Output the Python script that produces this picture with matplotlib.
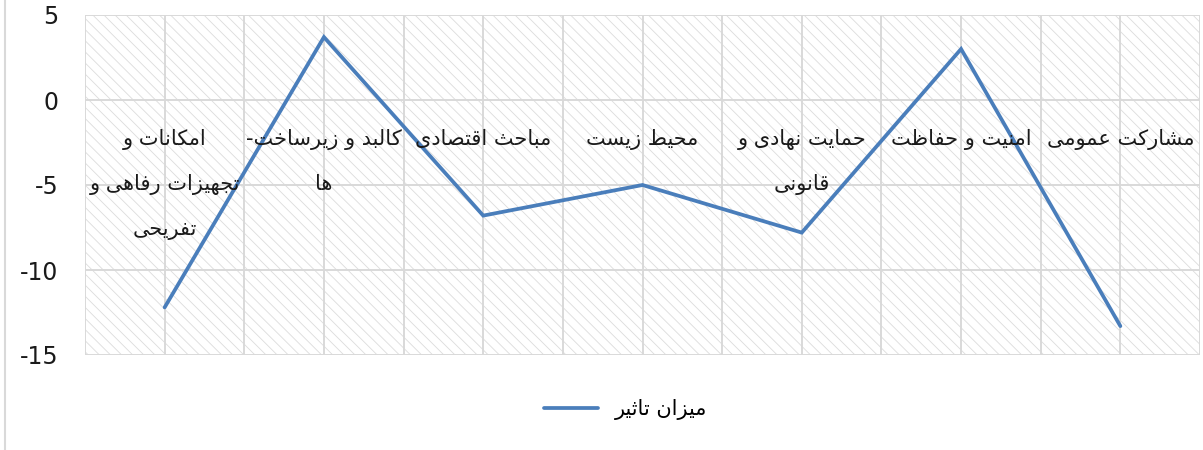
import matplotlib.pyplot as plt
from matplotlib.patches import Rectangle
from matplotlib.lines import Line2D

# chart data
categories = [
    "امکانات و\nتجهیزات رفاهی و\nتفریحی",
    "کالبد و زیرساخت-\nها",
    "مباحث اقتصادی",
    "محیط زیست",
    "حمایت نهادی و\nقانونی",
    "امنیت و حفاظت",
    "مشارکت عمومی",
]
values = [-12.2, 3.7, -6.8, -5.0, -7.8, 3.0, -13.3]
series_name = "میزان تاثیر"
yticks = [-15, -10, -5, 0, 5]

# minimal arabic/persian shaping (matplotlib has no bidi / joining)
# letter -> (first presentation form code, dual joining?)
FORMS = {
    'ا': (0xFE8D, False), 'ب': (0xFE8F, True), 'ت': (0xFE95, True),
    'ث': (0xFE99, True), 'ج': (0xFE9D, True), 'ح': (0xFEA1, True),
    'خ': (0xFEA5, True), 'د': (0xFEA9, False), 'ذ': (0xFEAB, False),
    'ر': (0xFEAD, False), 'ز': (0xFEAF, False), 'س': (0xFEB1, True),
    'ش': (0xFEB5, True), 'ص': (0xFEB9, True), 'ض': (0xFEBD, True),
    'ط': (0xFEC1, True), 'ظ': (0xFEC5, True), 'ع': (0xFEC9, True),
    'غ': (0xFECD, True), 'ف': (0xFED1, True), 'ق': (0xFED5, True),
    'ل': (0xFEDD, True), 'م': (0xFEE1, True), 'ن': (0xFEE5, True),
    'ه': (0xFEE9, True), 'و': (0xFEED, False), 'ی': (0xFBFC, True),
    'ک': (0xFB8E, True),
}


def shape_line(s):
    out = []
    for i, ch in enumerate(s):
        if ch not in FORMS:
            out.append(ch)
            continue
        start, dual = FORMS[ch]
        prev = s[i - 1] if i > 0 else ''
        nxt = s[i + 1] if i + 1 < len(s) else ''
        jp = prev in FORMS and FORMS[prev][1]
        jn = dual and nxt in FORMS
        if jp and jn:
            code = start + 3
        elif jp:
            code = start + 1
        elif jn:
            code = start + 2
        else:
            code = start
        out.append(chr(code))
    return ''.join(out)[::-1]


def shape(s):
    return '\n'.join(shape_line(l) for l in s.split('\n'))


plt.rcParams['font.family'] = ['DejaVu Sans']
plt.rcParams['axes.unicode_minus'] = False
plt.rcParams['hatch.linewidth'] = 0.6

fig = plt.figure(figsize=(12.03, 4.5), dpi=100)
ax = fig.add_axes([85 / 1203, 95 / 450, 1115 / 1203, 340 / 450])

x = list(range(len(values)))
ax.set_xlim(-0.5, len(values) - 0.5)
ax.set_ylim(-15, 5)

# hatched plot area
bg = Rectangle((0, 0), 1, 1, transform=ax.transAxes, facecolor='white',
               edgecolor='#dcdcdc', hatch='\\\\\\', linewidth=0, zorder=0)
ax.add_patch(bg)

ax.set_xticks([i - 0.5 for i in range(len(values) + 1)] + x)
ax.set_xticklabels([])
ax.set_yticks(yticks)
ax.grid(True, color='#d9d9d9', linewidth=1.4, zorder=1)
ax.set_axisbelow(True)
ax.tick_params(length=0, labelsize=17, labelcolor='#1a1a1a', pad=19)
for sp in ax.spines.values():
    sp.set_visible(False)

line, = ax.plot(x, values, color='#4a7ebb', linewidth=2.7, zorder=3,
                solid_capstyle='round', solid_joinstyle='miter')

for i, lab in enumerate(categories):
    ax.annotate(shape(lab), xy=(i, 0), xytext=(0, -21), textcoords='offset points',
                ha='center', va='top', fontsize=15, linespacing=2.5,
                color='#1a1a1a', zorder=4)

fig.legend([Line2D([], [], color='#4a7ebb', linewidth=2.7, solid_capstyle='round')],
           [shape(series_name)], loc='center', bbox_to_anchor=(0.52, 0.09),
           frameon=False, fontsize=15, handlelength=2.6)

# outer chart border (left edge visible)
fig.add_artist(Line2D([5 / 1203, 5 / 1203], [0, 1], color='#d9d9d9', linewidth=1.5))

fig.savefig('out.png', dpi=100)
